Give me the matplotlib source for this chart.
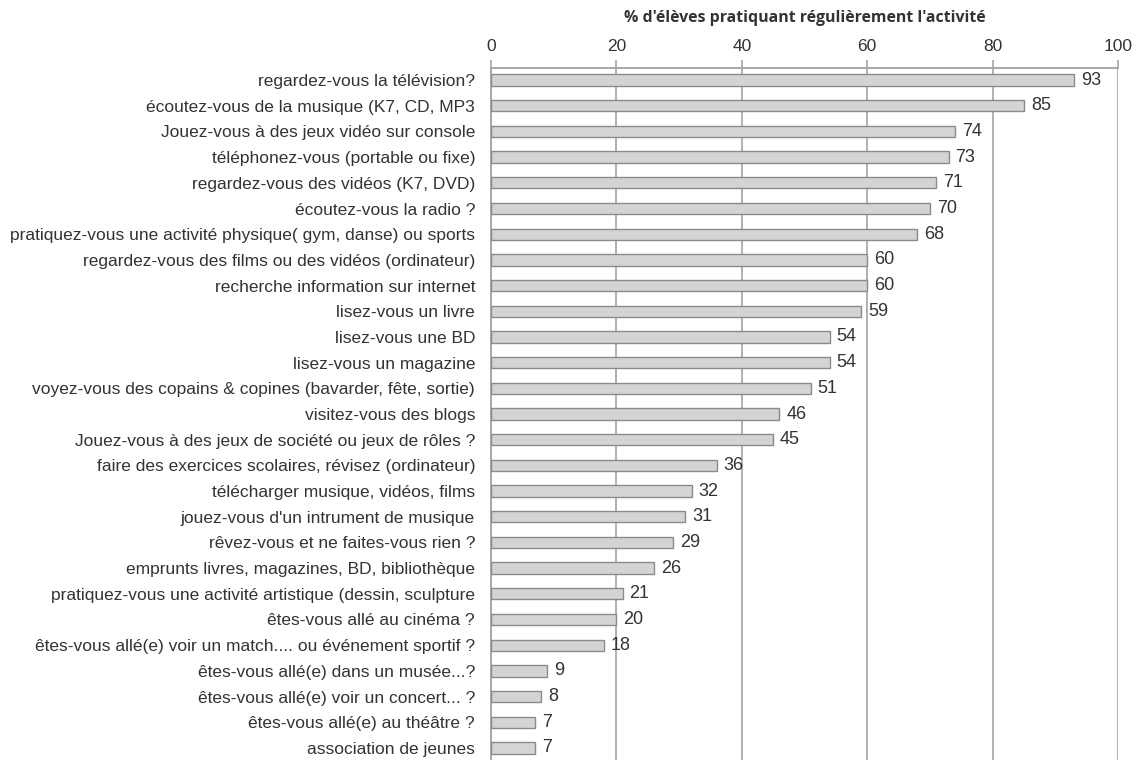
import matplotlib.pyplot as plt
import numpy as np

# Activities, top to bottom, with the share of pupils doing each one regularly
activities = [
    "regardez-vous la télévision?",
    "écoutez-vous de la musique (K7, CD, MP3",
    "Jouez-vous à des jeux vidéo sur console",
    "téléphonez-vous (portable ou fixe)",
    "regardez-vous des vidéos (K7, DVD)",
    "écoutez-vous la radio ?",
    "pratiquez-vous une activité physique( gym, danse) ou sports",
    "regardez-vous des films ou des vidéos (ordinateur)",
    "recherche information sur internet",
    "lisez-vous un livre",
    "lisez-vous une BD",
    "lisez-vous un magazine",
    "voyez-vous des copains & copines (bavarder, fête, sortie)",
    "visitez-vous des blogs",
    "Jouez-vous à des jeux de société ou jeux de rôles ?",
    "faire des exercices scolaires, révisez (ordinateur)",
    "télécharger musique, vidéos, films",
    "jouez-vous d'un intrument de musique",
    "rêvez-vous et ne faites-vous rien ?",
    "emprunts livres, magazines, BD, bibliothèque",
    "pratiquez-vous une activité artistique (dessin, sculpture",
    "êtes-vous allé au cinéma ?",
    "êtes-vous allé(e) voir un match.... ou événement sportif ?",
    "êtes-vous allé(e) dans un musée...?",
    "êtes-vous allé(e) voir un concert... ?",
    "êtes-vous allé(e) au théâtre ?",
    "association de jeunes",
]
percent = [93, 85, 74, 73, 71, 70, 68, 60, 60, 59, 54, 54, 51, 46, 45,
           36, 32, 31, 29, 26, 21, 20, 18, 9, 8, 7, 7]

plt.rcParams['font.family'] = ['Liberation Sans', 'DejaVu Sans']

fig = plt.figure(figsize=(11.45, 7.6), dpi=100)
ax = fig.add_axes([491 / 1145, 0.0, 627 / 1145, 692 / 760])

y = np.arange(len(activities))
ax.barh(y, percent, height=0.44, color='#d4d4d4', edgecolor='#8a8a8a',
        linewidth=1.0, zorder=3)

for yi, v in zip(y, percent):
    ax.text(v + 1.1, yi, str(v), va='center', ha='left', fontsize=13,
            color='#333333', zorder=4)

ax.set_xlim(0, 100)
ax.set_ylim(len(activities) - 0.53, -0.47)
ax.set_xticks(np.arange(0, 101, 20))
ax.set_yticks(y)
ax.set_yticklabels(activities, fontsize=12.5, color='#333333')

ax.xaxis.tick_top()
ax.tick_params(axis='x', top=True, bottom=False, length=6, color='#a8a8a8',
               width=1.2, labelsize=12.5, labelcolor='#333333', pad=4)
ax.tick_params(axis='y', left=False, pad=8)

ax.xaxis.grid(True, color='#b0b0b0', linewidth=1.4, zorder=0)
ax.set_axisbelow(True)

for side in ['right', 'bottom']:
    ax.spines[side].set_visible(False)
for side in ['top', 'left']:
    ax.spines[side].set_color('#a8a8a8')
    ax.spines[side].set_linewidth(1.4)

fig.text(0.703, 0.976, "% d'élèves pratiquant régulièrement l'activité",
         ha='center', va='center', fontsize=11.4, fontweight='bold',
         family=['Open Sans', 'DejaVu Sans'], color='#333333')

fig.savefig('out.png', dpi=100)
